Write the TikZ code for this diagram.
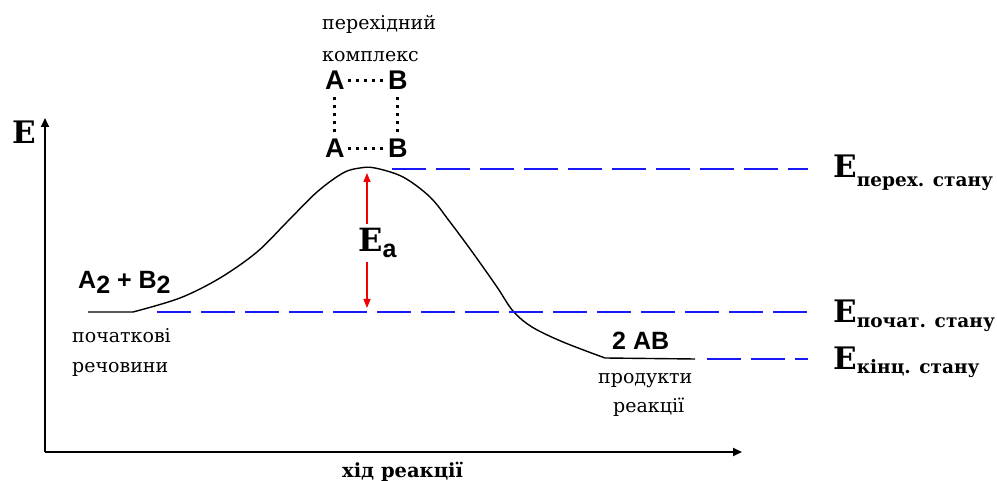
\documentclass[tikz,border=0pt]{standalone}
\usepackage{fontspec}
\setmainfont{DejaVu Serif}
\newfontfamily\sansf{Liberation Sans}
\usetikzlibrary{arrows.meta}
\definecolor{dblue}{RGB}{25,25,245}
\definecolor{ared}{RGB}{240,0,0}
\begin{document}
\begin{tikzpicture}[x=1pt,y=-1pt,
  axis/.style={line width=1.7pt,-{Triangle[length=9pt,width=8pt]}},
  curve/.style={line width=1.4pt},
  dashline/.style={draw=dblue,line width=2.5pt,dash pattern=on 34pt off 10pt},
  redarr/.style={draw=ared,line width=1.4pt,-{Triangle[length=9pt,width=7pt]}},
  dotline/.style={line width=3pt,dash pattern=on 3pt off 5pt},
  txt/.style={inner sep=0pt,anchor=base west,font=\fontsize{19}{29}\selectfont},
  bigE/.style={inner sep=0pt,anchor=base west,font=\fontsize{31}{31}\selectfont\bfseries},
  subE/.style={font=\fontsize{18.5}{18.5}\selectfont},
  chem/.style={inner sep=0pt,anchor=base west,font=\fontsize{25}{25}\sansf\bfseries},
  ab/.style={inner sep=0pt,anchor=base west,font=\fontsize{27}{27}\sansf\bfseries}]
\useasboundingbox (0,0) rectangle (997,481);

% axes
\coordinate (O) at (45,452);
\coordinate (Ytop) at (45,118);
\coordinate (Xend) at (742,452);
\draw[axis] (O) -- (Ytop);
\draw[axis] (O) -- (Xend);
\node[bigE] (Elab) at (12,144) {E};
\node[inner sep=0pt,anchor=base west,font=\fontsize{19.5}{19.5}\selectfont\bfseries] (xlab) at (342,477) {хід реакції};

% energy curve
\draw[curve] (88,312) -- (133,312)
  plot[smooth,tension=0.55] coordinates {(133,312) (180,298) (220,278) (257,252) (287,222) (317,192) (343,173) (360,168) (375,168) (403,177) (430,197) (450,222) (473,253) (497,287) (513,311) (532,327) (563,342) (605,358)}
  -- (695,359);

% dashed levels
\coordinate (t0) at (392,169);
\coordinate (t1) at (808,169);
\coordinate (m0) at (157,312);
\coordinate (m1) at (808,312);
\coordinate (b0) at (707,359);
\coordinate (b1) at (808,359);
\draw[dashline] (t0) -- (t1);
\draw[dashline] (m0) -- (m1);
\draw[dashline] (b0) -- (b1);

% right labels
\node[bigE] (Eper) at (833,178) {E\raisebox{-9pt}{\tikzset{}\fontsize{18.5}{18.5}\selectfont перех. стану}};
\node[bigE] (Epoch) at (833,323) {E\raisebox{-5pt}{\fontsize{18.5}{18.5}\selectfont почат. стану}};
\node[bigE] (Ekin) at (833,370) {E\raisebox{-4pt}{\fontsize{18.5}{18.5}\selectfont кінц. стану}};

% activation energy
\node[inner sep=4pt,anchor=base west,font=\fontsize{32}{32}\selectfont\bfseries] (Ea) at (354,252) {E\raisebox{-6pt}{\fontsize{25}{25}\sansf\bfseries a}};
\coordinate (ea1) at (367,173);
\coordinate (ea2) at (367,308);
\draw[redarr] (ea1 |- Ea.north) -- (ea1);
\draw[redarr] (ea2 |- Ea.south) -- (ea2);

% transition complex
\node[txt] (trans) at (322,30) {перехідний};
\node[txt] (kompl) at (322,62) {комплекс};
\node[ab] (ta) at (325,90) {A};
\node[ab] (tb) at (388,90) {B};
\node[ab] (ba) at (325,158) {A};
\node[ab] (bb) at (388,158) {B};
\draw[dotline,shorten <=3pt,shorten >=2pt] (ta.east) -- (tb.west);
\draw[dotline,shorten <=3pt,shorten >=2pt] (ba.east) -- (bb.west);
\draw[dotline,shorten <=7pt,shorten >=3pt] (ta.south) -- (ba.north);
\draw[dotline,shorten <=7pt,shorten >=3pt] (tb.south) -- (bb.north);

% reactants / products
\node[chem] (react) at (78,289) {A\raisebox{-5pt}{2} + B\raisebox{-5pt}{2}};
\node[txt] (poch) at (72,343) {початкові};
\node[txt] (rech) at (72,372) {речовини};
\node[chem] (prod) at (612,349) {2 AB};
\node[txt] (prd1) at (598,384) {продукти};
\node[txt] (prd2) at (613,413) {реакції};
\end{tikzpicture}
\end{document}
